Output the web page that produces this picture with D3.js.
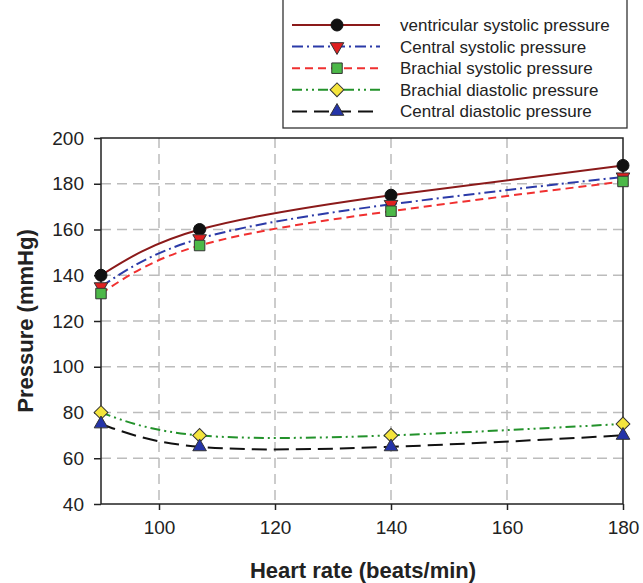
<html>
<head>
  <meta charset="utf8">
  <title>Pressure vs heart rate</title>
  <style>
  * { margin: 0; padding: 0; }
  body { background: #fff; }
  </style>
</head>
<body>
  <script src="https://cdn.jsdelivr.net/npm/d3@7"></script>
  <script>
  var w = 643;
  var h = 583;

  // data
  var heartRate = [90, 107, 140, 180];
  var seriesNames = [
    "ventricular systolic pressure",
    "Central systolic pressure",
    "Brachial systolic pressure",
    "Brachial diastolic pressure",
    "Central diastolic pressure"
  ];
  var ventricularSys = [140, 160, 175, 188];
  var centralSys = [135, 156, 171, 183];
  var brachialSys = [132, 153, 168, 181];
  var brachialDia = [80, 70, 70, 75];
  var centralDia = [75, 65, 65, 70];
  var xTicks = [100, 120, 140, 160, 180];
  var yTicks = [40, 60, 80, 100, 120, 140, 160, 180, 200];

  var styles = [
    { line: "#8b1a1a", dash: null, shape: "circle", fill: "#111" },
    { line: "#2b3aa8", dash: "11,4,2,4", shape: "down", fill: "#e02020" },
    { line: "#f03030", dash: "8,5", shape: "square", fill: "#4cb848" },
    { line: "#23922b", dash: "10,4,2,4,2,4", shape: "diamond", fill: "#f4e43c" },
    { line: "#111", dash: "15,7", shape: "up", fill: "#2434a8" }
  ];
  var values = [ventricularSys, centralSys, brachialSys, brachialDia, centralDia];

  var plotL = 101, plotR = 623, plotT = 138, plotB = 504;

  var xScale = d3.scaleLinear().domain([90, 180]).range([plotL, plotR]);
  var yScale = d3.scaleLinear().domain([40, 200]).range([plotB, plotT]);

  var svg = d3.select("body").append("svg")
    .attr("width", w)
    .attr("height", h)
    .style("font-family", "Liberation Sans, Arial, sans-serif");

  // grid
  svg.append("g").selectAll("line")
    .data(xTicks.filter(d => d < 180))
    .enter().append("line")
    .attr("x1", d => xScale(d)).attr("x2", d => xScale(d))
    .attr("y1", plotT).attr("y2", plotB)
    .attr("stroke", "#bcbcbc").attr("stroke-width", 1.5)
    .attr("stroke-dasharray", "10,6");
  svg.append("g").selectAll("line")
    .data(yTicks.filter(d => d > 40 && d < 200))
    .enter().append("line")
    .attr("x1", plotL).attr("x2", plotR)
    .attr("y1", d => yScale(d)).attr("y2", d => yScale(d))
    .attr("stroke", "#bcbcbc").attr("stroke-width", 1.5)
    .attr("stroke-dasharray", "10,6");

  // axes
  var xAxis = d3.axisBottom(xScale).tickValues(xTicks).tickSize(6).tickPadding(11);
  var yAxis = d3.axisLeft(yScale).tickValues(yTicks).tickSize(7).tickPadding(10);
  var gx = svg.append("g").attr("transform", "translate(0," + plotB + ")").call(xAxis);
  var gy = svg.append("g").attr("transform", "translate(" + plotL + ",0)").call(yAxis);
  [gx, gy].forEach(function(g) {
    g.select(".domain").remove();
    g.selectAll("line").attr("stroke", "#222").attr("stroke-width", 1.5);
    g.selectAll("text").attr("font-size", "19px").attr("fill", "#222")
      .style("font-family", "Liberation Sans, Arial, sans-serif");
  });

  // frame
  svg.append("rect")
    .attr("x", plotL).attr("y", plotT)
    .attr("width", plotR - plotL).attr("height", plotB - plotT)
    .attr("fill", "none").attr("stroke", "#222").attr("stroke-width", 1.5);

  // lines
  var line = d3.line()
    .x(function(d, i) { return xScale(heartRate[i]); })
    .y(function(d) { return yScale(d); })
    .curve(d3.curveNatural);

  function drawMarker(g, shape, fill, x, y) {
    var sym;
    if (shape == "circle") {
      g.append("circle").attr("cx", x).attr("cy", y).attr("r", 6)
        .attr("fill", fill).attr("stroke", "#111");
      return;
    }
    if (shape == "square") sym = d3.symbol(d3.symbolSquare, 110);
    if (shape == "diamond") sym = d3.symbol(d3.symbolSquare, 95);
    if (shape == "up" || shape == "down") sym = d3.symbol(d3.symbolTriangle, 80);
    var rot = shape == "diamond" ? 45 : (shape == "down" ? 180 : 0);
    g.append("path").attr("d", sym())
      .attr("transform", "translate(" + x + "," + y + ") rotate(" + rot + ")")
      .attr("fill", fill).attr("stroke", "#333").attr("stroke-width", 1);
  }

  values.forEach(function(vals, k) {
    var st = styles[k];
    svg.append("path")
      .attr("d", line(vals))
      .attr("fill", "none")
      .attr("stroke", st.line)
      .attr("stroke-width", 2)
      .attr("stroke-dasharray", st.dash);
  });
  values.forEach(function(vals, k) {
    var g = svg.append("g");
    vals.forEach(function(v, i) {
      drawMarker(g, styles[k].shape, styles[k].fill, xScale(heartRate[i]), yScale(v));
    });
  });

  // axis titles
  svg.append("text")
    .attr("x", 363).attr("y", 578)
    .attr("text-anchor", "middle")
    .attr("font-size", "22px").attr("font-weight", "bold").attr("fill", "#222")
    .text("Heart rate (beats/min)");
  svg.append("text")
    .attr("transform", "translate(33,321) rotate(-90)")
    .attr("text-anchor", "middle")
    .attr("font-size", "22px").attr("font-weight", "bold").attr("fill", "#222")
    .text("Pressure (mmHg)");

  // legend
  var lg = svg.append("g");
  lg.append("rect")
    .attr("x", 283).attr("y", -1).attr("width", 344).attr("height", 129)
    .attr("fill", "#fff").attr("stroke", "#333").attr("stroke-width", 1.3);
  seriesNames.forEach(function(name, k) {
    var y = 25 + k * 21.6;
    var st = styles[k];
    lg.append("line")
      .attr("x1", 292).attr("x2", 380).attr("y1", y).attr("y2", y)
      .attr("stroke", st.line).attr("stroke-width", 2)
      .attr("stroke-dasharray", st.dash);
    drawMarker(lg, st.shape, st.fill, 337, y);
    lg.append("text")
      .attr("x", 400).attr("y", y + 6)
      .attr("font-size", "17px").attr("fill", "#222")
      .text(name);
  });
  </script>
</body>
</html>
